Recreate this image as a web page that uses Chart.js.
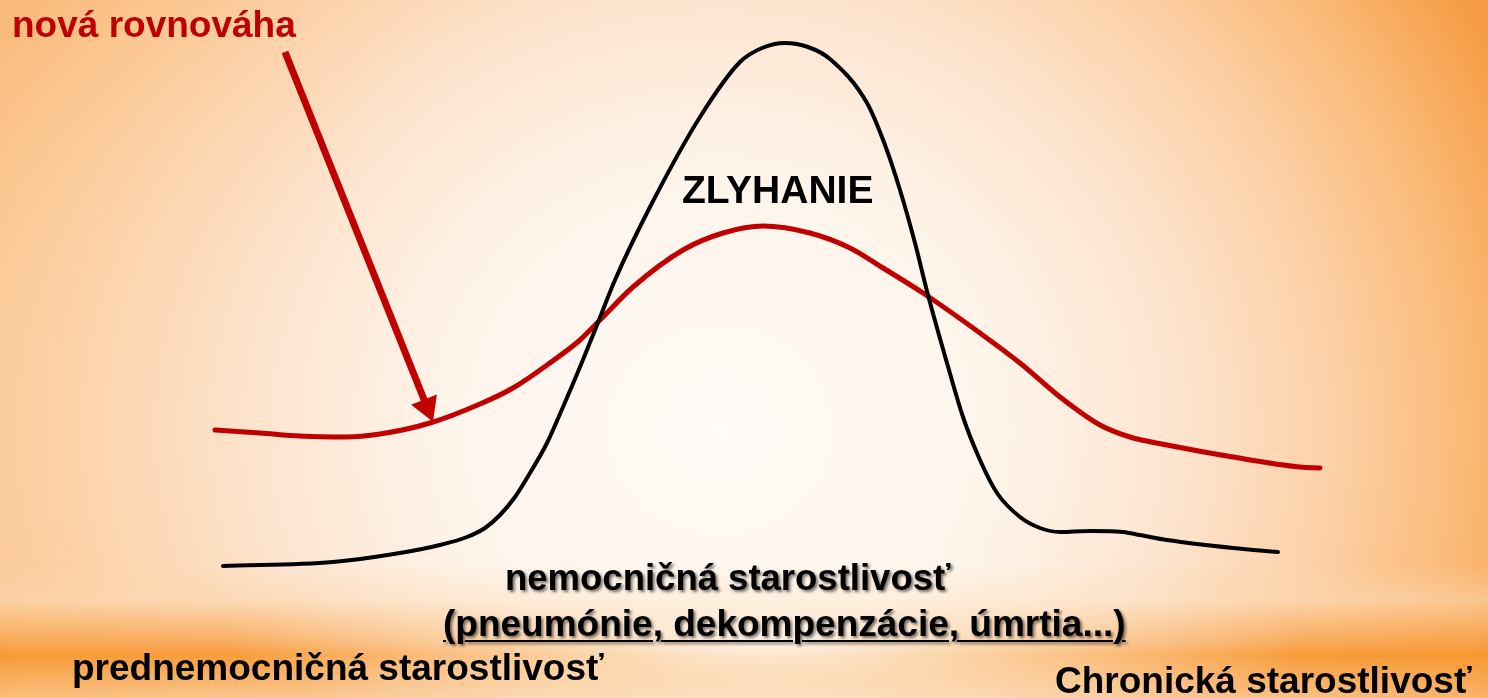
<!DOCTYPE html>
<html lang="sk">
<head>
  <meta charset="UTF-8">
  <title>Zlyhanie - nová rovnováha</title>
  <script src="https://cdn.jsdelivr.net/npm/chart.js"></script>
  <style>
    body {
      margin: 0;
      overflow: hidden;
      font-family: 'Liberation Sans', Arial, sans-serif;
    }
    .stage {
      position: relative;
      width: 1488px;
      height: 698px;
      background:
        radial-gradient(ellipse 540px 95px at 770px 640px, rgba(255,248,240,0.95), rgba(255,248,240,0) 100%),
        linear-gradient(to bottom, rgba(250,200,150,0) 565px, rgba(252,215,175,0.55) 600px, rgba(248,160,70,0.75) 640px, rgba(247,150,45,0.9) 655px, rgba(250,185,115,0.6) 698px),
        linear-gradient(to right, rgba(255,238,220,0.3) 0, rgba(255,238,220,0) 320px),
        radial-gradient(ellipse 870px 820px at 720px 430px, #fffbf7 0%, #fef4ea 32%, #fde5d0 52%, #fcd1a8 70%, #fabb7a 85%, #f69d45 100%);
    }
    canvas {
      position: absolute;
      left: 0;
      top: 0;
    }
    .lbl {
      position: absolute;
      font-weight: bold;
      font-size: 37px;
      line-height: 37px;
      white-space: nowrap;
      color: #000;
    }
    .red { color: #c00000; }
    .shadow { text-shadow: 2px 2px 3px rgba(0,0,0,0.55); }
    .under { text-decoration: underline; text-decoration-thickness: 2px; text-underline-offset: 4px; }
  </style>
</head>
<body>

<div class="stage">
  <canvas id="curves" width="1488" height="698"></canvas>
  <div class="lbl red" style="left:12px; top:6px;">nová rovnováha</div>
  <div class="lbl" style="left:682px; top:170px; font-size:39px; line-height:39px;">ZLYHANIE</div>
  <div class="lbl shadow" style="left:505px; top:559px; font-size:36.5px;">nemocničná starostlivosť</div>
  <div class="lbl shadow under" style="left:443px; top:605px;">(pneumónie, dekompenzácie, úmrtia...)</div>
  <div class="lbl" style="left:72px; top:649px;">prednemocničná starostlivosť</div>
  <div class="lbl" style="left:1055px; top:662px;">Chronická starostlivosť</div>
</div>

<script>
  // curve values (x = time, y = level)
  const failX = [223, 333, 400, 440, 467, 485, 500, 515, 530, 547, 563, 580, 597, 615, 650, 700, 740, 762, 785, 808, 830, 867, 885, 900, 915, 928, 947, 963, 980, 997, 1020, 1040, 1060, 1090, 1123, 1140, 1167, 1233, 1278];
  const failY = [132, 136, 145, 153, 161, 170, 183, 201, 225, 255, 291, 331, 373, 418, 491, 581, 636, 650, 655, 651, 639, 595, 553, 508, 455, 403, 335, 281, 238, 205, 181, 170, 166, 167, 166, 163, 158, 150, 146];

  const balanceX = [215, 260, 300, 345, 380, 430, 480, 513, 547, 580, 600, 633, 683, 723, 763, 810, 850, 883, 923, 980, 1020, 1060, 1100, 1130, 1167, 1233, 1300, 1320];
  const balanceY = [268, 265, 262, 261, 264, 275, 294, 310, 333, 358, 378, 411, 448, 465, 472, 465, 450, 430, 405, 365, 335, 301, 273, 261, 253, 241, 231, 230];

  const arrowX = [285, 427];
  const arrowY = [646, 291];

  const toPoints = (xs, ys) => xs.map((x, i) => ({ x: x, y: ys[i] }));

  const chart = new Chart(document.getElementById('curves'), {
    type: 'scatter',
    data: {
      datasets: [
        {
          label: 'arrow',
          data: toPoints(arrowX, arrowY),
          showLine: true,
          borderColor: '#c00000',
          borderWidth: 7,
          tension: 0,
          pointRadius: [0, 16],
          pointStyle: 'triangle',
          pointRotation: 158,
          pointBackgroundColor: '#c00000',
          pointBorderWidth: 0
        },
        {
          label: 'zlyhanie',
          data: toPoints(failX, failY),
          showLine: true,
          borderColor: '#000000',
          borderWidth: 4,
          borderCapStyle: 'round',
          cubicInterpolationMode: 'monotone',
          pointRadius: 0
        },
        {
          label: 'nová rovnováha',
          data: toPoints(balanceX, balanceY),
          showLine: true,
          borderColor: '#c00000',
          borderWidth: 5,
          borderCapStyle: 'round',
          cubicInterpolationMode: 'monotone',
          pointRadius: 0
        }
      ]
    },
    options: {
      responsive: false,
      animation: false,
      devicePixelRatio: 1,
      layout: { padding: 0, autoPadding: false },
      scales: {
        x: { type: 'linear', min: 0, max: 1488, display: false },
        y: { type: 'linear', min: 0, max: 698, display: false }
      },
      plugins: { legend: { display: false }, tooltip: { enabled: false } }
    }
  });
</script>

</body>
</html>
